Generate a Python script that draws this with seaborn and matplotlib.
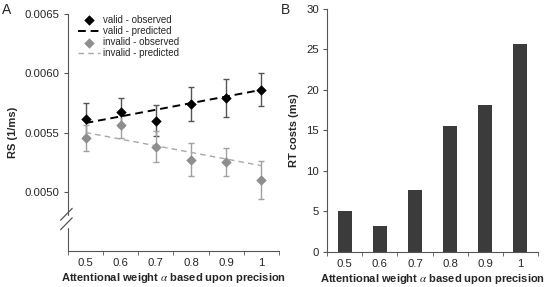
import numpy as np
import pandas as pd
import matplotlib
matplotlib.use("Agg")
import matplotlib.pyplot as plt
import seaborn as sns

# data
weights = ["0.5", "0.6", "0.7", "0.8", "0.9", "1"]
valid_obs = [0.00561, 0.00567, 0.00560, 0.00574, 0.00579, 0.00586]
valid_err = [0.00014, 0.00012, 0.00013, 0.00014, 0.00016, 0.00014]
valid_pred = [0.00558, 0.005636, 0.005692, 0.005748, 0.005804, 0.00586]
invalid_obs = [0.00545, 0.00556, 0.00538, 0.00527, 0.00525, 0.00510]
invalid_err = [0.00011, 0.00011, 0.00013, 0.00014, 0.00012, 0.00016]
invalid_pred = [0.00550, 0.005444, 0.005388, 0.005332, 0.005276, 0.00522]
rt_costs = [5.0, 3.2, 7.6, 15.6, 18.1, 25.7]

sns.set_style("ticks")
plt.rcParams['font.family'] = ['Liberation Sans', 'DejaVu Sans']
plt.rcParams['mathtext.fontset'] = 'stix'

xpos = np.arange(len(weights))
df = pd.DataFrame({"x": xpos, "w": weights,
                   "valid_obs": valid_obs, "valid_pred": valid_pred,
                   "invalid_obs": invalid_obs, "invalid_pred": invalid_pred,
                   "rt": rt_costs})

fig = plt.figure(figsize=(5.47, 2.87), dpi=100)
axA = fig.add_axes([0.1243, 0.1254, 0.3857, 0.8258])
axB = fig.add_axes([0.598, 0.122, 0.3855, 0.847])

xlabel = r"Attentional weight $\alpha$ based upon precision"
fs = 8.2
lfs = 8
spine_col = "#555555"

## Panel A
dark = "#000000"
grey = "#8e8e8e"
axA.errorbar(xpos, valid_obs, yerr=valid_err, fmt="none", ecolor="#555555",
             elinewidth=1, capsize=2, capthick=1, zorder=2)
axA.errorbar(xpos, invalid_obs, yerr=invalid_err, fmt="none", ecolor="#a0a0a0",
             elinewidth=1, capsize=2, capthick=1, zorder=2)
sns.lineplot(data=df, x="x", y="valid_pred", ax=axA, color=dark, lw=1.4,
             linestyle=(0, (4, 2.5)), label="valid - predicted", zorder=3)
sns.lineplot(data=df, x="x", y="invalid_pred", ax=axA, color="#a8a8a8", lw=1.0,
             linestyle=(0, (4, 3)), label="invalid - predicted", zorder=3)
sns.scatterplot(data=df, x="x", y="valid_obs", ax=axA, color=dark, marker="D",
                s=24, edgecolor=dark, label="valid - observed", zorder=4)
sns.scatterplot(data=df, x="x", y="invalid_obs", ax=axA, color=grey, marker="D",
                s=24, edgecolor=grey, label="invalid - observed", zorder=4)

axA.set_xlim(-0.5, 5.5)
axA.set_ylim(0.0045, 0.0065)
axA.set_yticks([0.0050, 0.0055, 0.0060, 0.0065])
axA.set_yticklabels(["0.0050", "0.0055", "0.0060", "0.0065"])
axA.set_ylabel("RS (1/ms)", fontsize=lfs, fontweight="bold", labelpad=5)
axA.set_xlabel(xlabel, fontsize=lfs, fontweight="bold", labelpad=2)

h, l = axA.get_legend_handles_labels()
order = ["valid - observed", "valid - predicted", "invalid - observed", "invalid - predicted"]
hh = [h[l.index(o)] for o in order]
axA.legend(hh, order, loc="upper left", bbox_to_anchor=(0.015, 1.025), frameon=False,
           fontsize=7, handlelength=2.3, handletextpad=0.3, labelspacing=0.12,
           borderpad=0.2)

# axis break marks
for yy in (0.115, 0.155):
    axA.plot([-0.035, 0.02], [yy - 0.025, yy + 0.025], transform=axA.transAxes,
             color=spine_col, lw=0.9, clip_on=False, zorder=6)
axA.plot([0, 0], [0.105, 0.145], transform=axA.transAxes, color="white",
         lw=2.5, clip_on=False, zorder=5)

## Panel B
sns.barplot(data=df, x="w", y="rt", ax=axB, color="#3b3b3b", width=0.4,
            saturation=1, edgecolor="none")
axB.set_xlim(-0.5, 5.5)
axB.set_ylim(0, 30)
axB.set_yticks(np.arange(0, 31, 5))
axB.set_ylabel("RT costs (ms)", fontsize=lfs, fontweight="bold", labelpad=5)
axB.set_xlabel(xlabel, fontsize=lfs, fontweight="bold", labelpad=2)

for ax in (axA, axB):
    sns.despine(ax=ax)
    ax.spines["left"].set_color(spine_col)
    ax.spines["bottom"].set_color(spine_col)
    ax.set_xticks(xpos)
    ax.set_xticklabels(weights)
    ax.set_xticks(np.arange(-0.5, 6, 1), minor=True)
    ax.tick_params(axis="x", which="major", length=0, pad=5, labelsize=fs)
    ax.tick_params(axis="x", which="minor", length=3, color=spine_col, direction="out")
    ax.tick_params(axis="y", length=3, color=spine_col, labelsize=fs, pad=3)

fig.text(0.004, 0.99, "A", fontsize=10, va="top", ha="left")
fig.text(0.513, 0.99, "B", fontsize=10, va="top", ha="left")

fig.savefig("out.png", dpi=100)
